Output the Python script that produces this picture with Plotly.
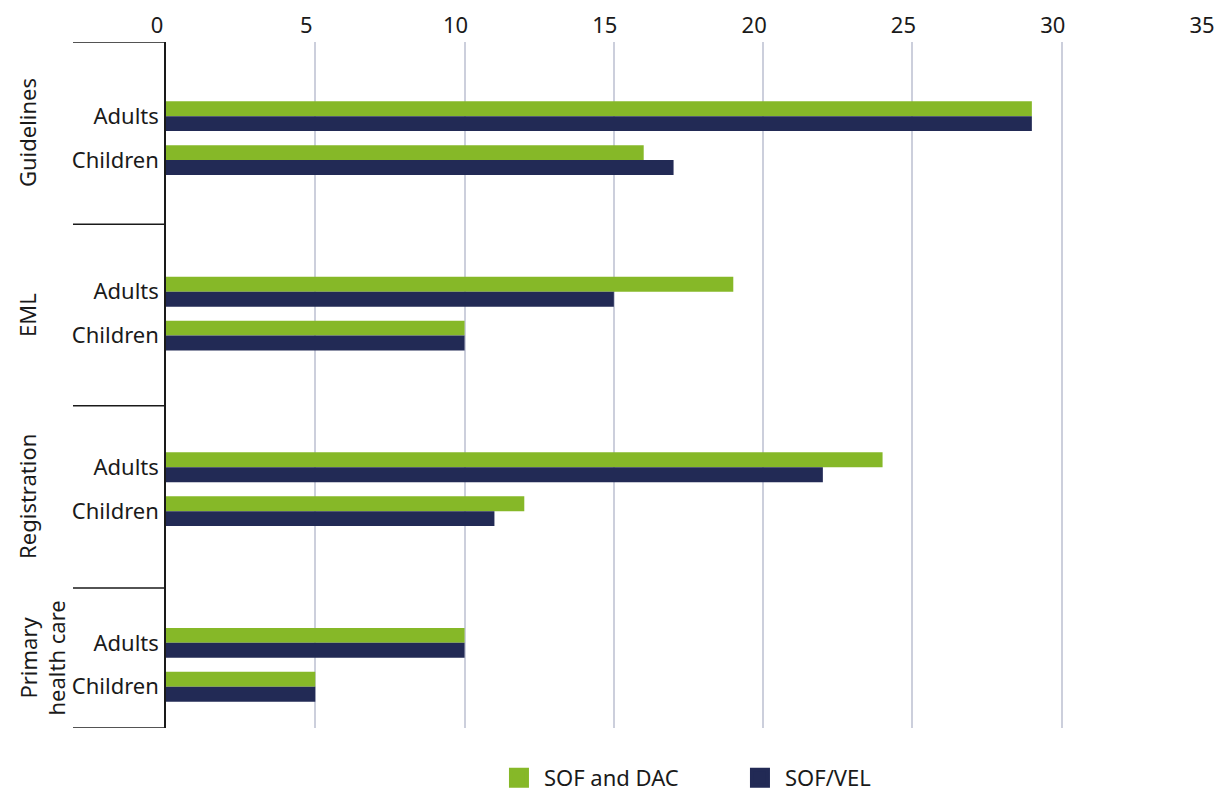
import plotly.graph_objects as go

# categories, top to bottom (blank slots keep the group spacing)
groups = ["Guidelines", "EML", "Registration", "Primary<br>health care"]
subgroups = ["Adults", "Children"]
series_names = ["SOF and DAC", "SOF/VEL"]

# values in order: Guidelines A/C, EML A/C, Registration A/C, Primary health care A/C
sof_dac = [29, 16, 19, 10, 24, 12, 10, 5]
sof_vel = [29, 17, 15, 10, 22, 11, 10, 5]

x_ticks = [0, 5, 10, 15, 20, 25, 30, 35]

GREEN = "#86b828"
NAVY = "#222a55"
TEXT = "#1a1a1a"
FONT = "Noto Sans"

# category axis: gap, Adults, Children, gap for each group (no trailing gap on the last)
cat_order = []
bar_keys = []
for i, g in enumerate(groups):
    key = g.split("<br>")[0]
    cat_order.append(f"gap-{i}-a")
    for s in subgroups:
        cat_order.append(f"{key}-{s}")
        bar_keys.append(f"{key}-{s}")
    if i < len(groups) - 1:
        cat_order.append(f"gap-{i}-b")

tick_text = [k.split("-")[1] for k in bar_keys]

fig = go.Figure()
fig.add_trace(go.Bar(y=bar_keys, x=sof_dac, orientation="h", name=series_names[0],
                     marker=dict(color=GREEN, line_width=0), showlegend=False))
fig.add_trace(go.Bar(y=bar_keys, x=sof_vel, orientation="h", name=series_names[1],
                     marker=dict(color=NAVY, line_width=0), showlegend=False))

# legend entries with bigger square swatches
for name, col in zip(series_names, [GREEN, NAVY]):
    fig.add_trace(go.Scatter(x=[None], y=[None], mode="markers", name=name,
                             marker=dict(symbol="square", size=16, color=col,
                                         line=dict(color=col, width=4))))

# group separators and labels (category index coordinates)
sep_pos = [-0.69, 3.46, 7.6, 11.75, 14.94]
for p in sep_pos:
    fig.add_shape(type="line", xref="paper", yref="y", x0=-0.089, x1=0, y0=p, y1=p,
                  line=dict(color=TEXT, width=1.5))
for i, g in enumerate(groups):
    mid = (sep_pos[i] + sep_pos[i + 1]) / 2
    fig.add_annotation(xref="paper", yref="y", x=0, xshift=-156, y=mid, text=g,
                       textangle=-90, showarrow=False, xanchor="left", yanchor="middle",
                       font=dict(family=FONT, size=22, color=TEXT))

# page body adds an 8px offset, so the figure is sized to fill the rest of the window
fig.update_layout(
    width=1214, height=787,
    paper_bgcolor="white", plot_bgcolor="white",
    margin=dict(l=158, r=11, t=34, b=67, autoexpand=False),
    barmode="group", bargap=0.32, bargroupgap=0,
    font=dict(family=FONT, size=22, color=TEXT),
    legend=dict(orientation="h", x=0.4003, xanchor="left", xref="container",
                y=0.0216, yanchor="middle", yref="container",
                font=dict(size=22), itemwidth=40, entrywidth=186, entrywidthmode="pixels"),
    xaxis=dict(side="top", range=[0, 35], tickvals=x_ticks, showgrid=True,
               gridcolor="#cccfdc", gridwidth=1.5, zeroline=False, showline=False,
               ticks="", ticklabelshift=-9, ticklabelstandoff=4, automargin=False,
               tickfont=dict(size=22)),
    yaxis=dict(type="category", categoryorder="array", categoryarray=cat_order,
               range=[14.94, -0.69], tickvals=bar_keys, ticktext=tick_text,
               showline=True, linecolor=TEXT, linewidth=1.5, showgrid=False,
               ticks="", ticklabelstandoff=1, automargin=False,
               tickfont=dict(size=22)),
)

fig.write_html("out.html")
